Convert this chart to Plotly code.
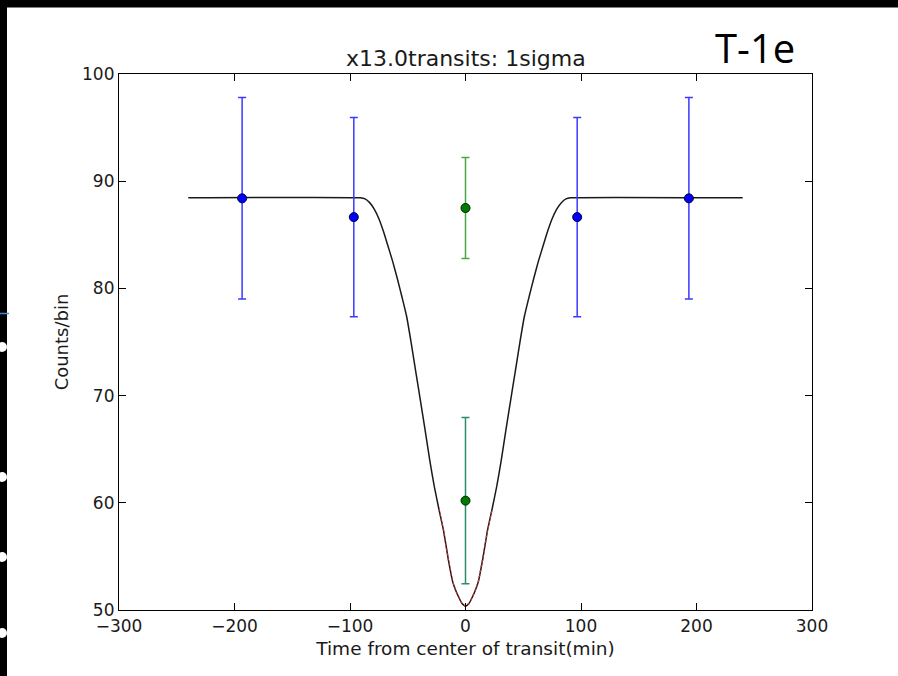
import plotly.graph_objects as go

# ---- data ----
blue_x = [-193.4, -96.7, 96.7, 193.4]
blue_y = [88.4, 86.65, 86.65, 88.4]
blue_err = [9.4, 9.3, 9.3, 9.4]

green_top_x = [0]
green_top_y = [87.5]
green_top_err = [4.7]

green_low_x = [0]
green_low_y = [60.2]
green_low_err = [7.75]

model_x = [-240, -91, -87, -83, -79, -75, -71, -67, -63, -59, -55, -51, -47, -43, -39, -35,
           -31, -27, -23, -19, -15, -11, -8, -5, -3, 0,
           3, 5, 8, 11, 15, 19, 23, 27, 31, 35, 39, 43, 47, 51, 55, 59, 63, 67, 71, 75,
           79, 83, 87, 91, 240]
model_y = [88.45, 88.45, 88.35, 88.0, 87.4, 86.5, 85.3, 83.9, 82.5, 80.9, 79.2, 77.4, 74.9,
           72.2, 69.5, 66.8, 64.0, 61.5, 59.4, 57.4, 54.8, 52.6, 51.7, 51.0, 50.6, 50.35,
           50.6, 51.0, 51.7, 52.6, 54.8, 57.4, 59.4, 61.5, 64.0, 66.8, 69.5, 72.2, 74.9,
           77.4, 79.2, 80.9, 82.5, 83.9, 85.3, 86.5, 87.4, 88.0, 88.35, 88.45, 88.45]

red_x = [-23, -19, -15, -11, -8, -5, -3, 0, 3, 5, 8, 11, 15, 19, 23]
red_y = [59.4, 57.4, 54.8, 52.6, 51.7, 51.0, 50.6, 50.35, 50.6, 51.0, 51.7, 52.6, 54.8, 57.4, 59.4]

x_ticks = [-300, -200, -100, 0, 100, 200, 300]
y_ticks = [50, 60, 70, 80, 90, 100]

title_text = "x13.0transits: 1sigma"
slide_label = "T-1e"
x_label = "Time from center of transit(min)"
y_label = "Counts/bin"

# ---- layout geometry (pixels) ----
W, H = 898, 676
L, R, T, B = 119, 812, 74, 610


def px2x(px):
    return (px - L) / (R - L)


def py2y(py):
    return (B - py) / (B - T)


FONT = "DejaVu Sans"

fig = go.Figure()

fig.add_trace(go.Scatter(x=model_x, y=model_y, mode="lines", line_shape="spline",
                         line=dict(color="#1a1a1a", width=1.5, smoothing=0.4), hoverinfo="skip"))
fig.add_trace(go.Scatter(x=red_x, y=red_y, mode="lines",
                         line=dict(color="#e0302a", width=1.3, dash="2px,3px"), hoverinfo="skip"))

fig.add_trace(go.Scatter(
    x=blue_x, y=blue_y, mode="markers",
    marker=dict(color="#0000ff", size=9, line=dict(color="#000033", width=1)),
    error_y=dict(type="data", array=blue_err, color="#3a3aff", thickness=1.5, width=4)))

fig.add_trace(go.Scatter(
    x=green_top_x, y=green_top_y, mode="markers",
    marker=dict(color="#007a00", size=9, line=dict(color="#002200", width=1)),
    error_y=dict(type="data", array=green_top_err, color="#45a845", thickness=1.5, width=4)))

fig.add_trace(go.Scatter(
    x=green_low_x, y=green_low_y, mode="markers",
    marker=dict(color="#007a00", size=9, line=dict(color="#002200", width=1)),
    error_y=dict(type="data", array=green_low_err, color="#2e8a6c", thickness=1.5, width=4)))

axis_common = dict(showgrid=False, zeroline=False, showline=True, linecolor="#000000",
                   linewidth=1.2, mirror="ticks", ticks="inside", ticklen=7,
                   tickcolor="#000000", tickwidth=1,
                   tickfont=dict(family=FONT, size=17, color="#1a1a1a"))

fig.update_xaxes(range=[-300, 300], tickvals=x_ticks, **axis_common,
                 title=dict(text=x_label, font=dict(family=FONT, size=18.5, color="#1a1a1a"),
                            standoff=7))
fig.update_yaxes(range=[50, 100], tickvals=y_ticks, **axis_common,
                 title=dict(text=y_label, font=dict(family=FONT, size=18, color="#1a1a1a"),
                            standoff=8))

shapes = []
# black slide border (top and left)
shapes.append(dict(type="rect", xref="paper", yref="paper", x0=px2x(-5), x1=px2x(W + 5),
                   y0=py2y(7.5), y1=py2y(-5), fillcolor="#000000", line=dict(width=0), layer="above"))
shapes.append(dict(type="rect", xref="paper", yref="paper", x0=px2x(-5), x1=px2x(7),
                   y0=py2y(H + 5), y1=py2y(-5), fillcolor="#000000", line=dict(width=0), layer="above"))
# slide bullet dots on left edge
for cy in [347, 477, 557, 633]:
    shapes.append(dict(type="circle", xref="paper", yref="paper",
                       x0=px2x(-3), x1=px2x(7), y0=py2y(cy + 5), y1=py2y(cy - 5),
                       fillcolor="#ffffff", line=dict(width=0), layer="above"))
# small blue line on left edge
shapes.append(dict(type="line", xref="paper", yref="paper", x0=px2x(0), x1=px2x(9),
                   y0=py2y(313.5), y1=py2y(313.5), line=dict(color="#4a8ad8", width=1.5),
                   layer="above"))

annotations = [
    dict(text=title_text, xref="paper", yref="paper", x=0.5, y=py2y(59), xanchor="center",
         yanchor="middle", showarrow=False, font=dict(family=FONT, size=22, color="#1a1a1a")),
    dict(text=slide_label, xref="paper", yref="paper", x=px2x(755), y=py2y(47), xanchor="center",
         yanchor="middle", showarrow=False, font=dict(family="Open Sans", size=40, color="#000000")),
]

fig.update_layout(
    width=W, height=H, autosize=False,
    margin=dict(l=L, r=W - R, t=T, b=H - B, pad=0),
    paper_bgcolor="#ffffff", plot_bgcolor="#ffffff",
    showlegend=False, shapes=shapes, annotations=annotations,
)

fig.write_html("out.html", config={"displayModeBar": False})
